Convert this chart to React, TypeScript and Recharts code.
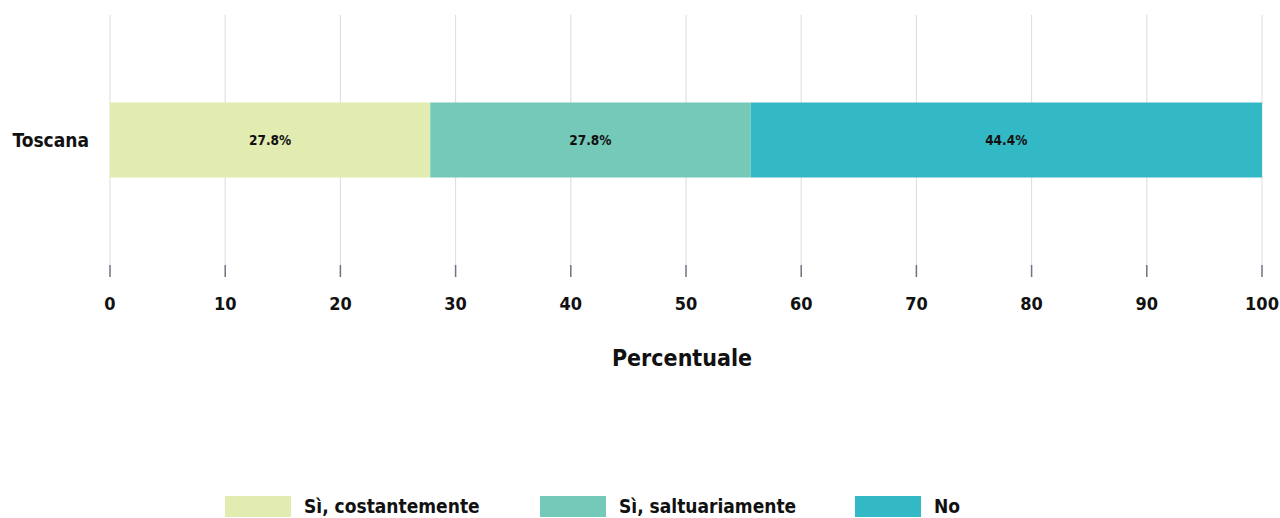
import React from "react";
import { BarChart, Bar, XAxis, YAxis, CartesianGrid, Legend, LabelList, Label } from "recharts";

const categories = ["Toscana"];
const costantemente = [27.8];
const saltuariamente = [27.8];
const no = [44.4];
const xTicks = [0, 10, 20, 30, 40, 50, 60, 70, 80, 90, 100];
const seriesNames = ["Sì, costantemente", "Sì, saltuariamente", "No"];
const seriesKeys = ["costantemente", "saltuariamente", "no"];
const seriesColors = ["#e2ebb0", "#75c9b8", "#33b9c5"];

const data = categories.map((c, i) => ({
  name: c,
  costantemente: costantemente[i],
  saltuariamente: saltuariamente[i],
  no: no[i],
}));

const FONT = "'DejaVu Sans Condensed', 'DejaVu Sans', sans-serif";

const LegendContent = () => (
  <div style={{ position: "relative", height: 0, width: 1280 }}>
    {seriesNames.map((n, i) => (
      <div
        key={n}
        style={{
          position: "absolute",
          left: 225 + i * 315,
          top: 0,
          display: "flex",
          alignItems: "flex-start",
          whiteSpace: "nowrap",
        }}
      >
        <div style={{ width: 66, height: 21, background: seriesColors[i] }} />
        <span
          style={{
            marginLeft: 13,
            fontFamily: FONT,
            fontWeight: "bold",
            fontSize: 19,
            lineHeight: "20px",
            color: "#111",
            marginTop: 0,
          }}
        >
          {n}
        </span>
      </div>
    ))}
  </div>
);

export default function App() {
  return (
    <div style={{ position: "absolute", left: 0, top: 0, width: 1280, height: 518, background: "#fff", overflow: "hidden" }}>
      <BarChart
        width={1280}
        height={518}
        data={data}
        layout="vertical"
        margin={{ top: 15, right: 18, left: 0, bottom: 143 }}
        barCategoryGap="35%"
      >
        <CartesianGrid horizontal={false} vertical={true} stroke="#dcdcdc" />
        <XAxis
          type="number"
          domain={[0, 100]}
          ticks={xTicks}
          interval={0}
          axisLine={false}
          tickSize={12}
          tickLine={{ stroke: "#6b7480", strokeWidth: 1.5 }}
          tickMargin={20}
          height={110}
          tick={{ fill: "#111", fontFamily: FONT, fontWeight: "bold", fontSize: 18 }}
        >
          <Label
            value="Percentuale"
            position="insideBottom"
            offset={9}
            dx={-4}
            style={{ fill: "#111", fontFamily: FONT, fontWeight: "bold", fontSize: 23 }}
          />
        </XAxis>
        <YAxis
          type="category"
          dataKey="name"
          width={110}
          axisLine={false}
          tickLine={false}
          tickSize={0}
          tickMargin={21}
          tick={{ fill: "#111", fontFamily: FONT, fontWeight: "bold", fontSize: 19 }}
        />
        <Legend
          verticalAlign="bottom"
          content={<LegendContent />}
          wrapperStyle={{ position: "absolute", top: 496, left: 0, width: 1280, height: 0 }}
        />
        {seriesKeys.map((k, i) => (
          <Bar key={k} dataKey={k} name={seriesNames[i]} stackId="a" fill={seriesColors[i]} isAnimationActive={false}>
            <LabelList
              dataKey={k}
              position="center"
              formatter={(v: number) => `${v.toFixed(1)}%`}
              style={{ fill: "#111", fontFamily: FONT, fontWeight: "bold", fontSize: 13.5 }}
            />
          </Bar>
        ))}
      </BarChart>
    </div>
  );
}
